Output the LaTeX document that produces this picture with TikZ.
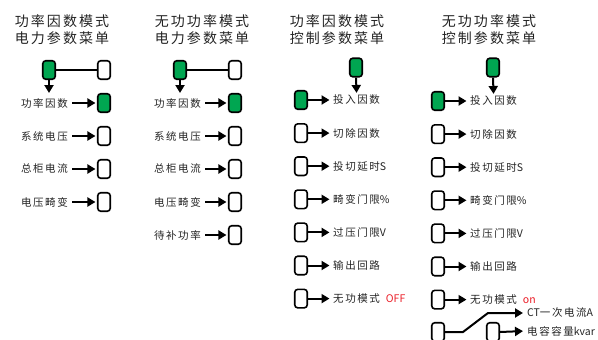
\documentclass[tikz,border=0pt]{standalone}
\usepackage{fontspec}
\newfontfamily\cjk[LetterSpace=15]{Noto Sans CJK SC}
\newfontfamily\cjkn{Noto Sans CJK SC}
\newcommand\lat[1]{{\cjkn #1}}
\usetikzlibrary{arrows.meta}

\definecolor{keygreen}{RGB}{0,166,81}
\definecolor{offred}{RGB}{235,30,40}
\definecolor{txtgray}{RGB}{35,35,35}

\begin{document}
\begin{tikzpicture}[x=1pt,y=-1pt,
    key/.style={draw=black,line width=1.6pt,rounded corners=3pt,minimum width=12.5pt,minimum height=18.5pt,inner sep=0pt},
    keyon/.style={key,fill=keygreen},
    ttl/.style={font=\cjk\fontsize{14}{17}\selectfont,align=center,text=txtgray},
    lbl/.style={font=\cjk\fontsize{10.5}{12}\selectfont,text=txtgray,inner sep=2pt},
    arr/.style={line width=2pt,-{Triangle[length=8pt,width=9pt]}},
    link/.style={line width=1.6pt}]

    \useasboundingbox (0,0) rectangle (598,340);

    % Column 1: power factor mode, electric menu
    \node[ttl] (t1) at (62,29.5) {功率因数模式\\电力参数菜单};
    \node[keyon] (k1a) at (49,70) {};
    \node[key] (k1b) at (104,70) {};
    \draw[link] (k1a) -- (k1b);
    \coordinate (d1) at (49,93);
    \draw[arr] (k1a.south) -- (d1);
    \foreach \lab/\sty [count=\i] in {功率因数/keyon,系统电压/key,总柜电流/key,电压畸变/key} {
        \node[\sty] (k1r\i) at (104,{103+33*(\i-1)}) {};
        \node[lbl,anchor=east] (l1r\i) at (70,{103+33*(\i-1)}) {\lab};
        \draw[arr,shorten <=2pt,shorten >=1.5pt] (l1r\i) -- (k1r\i);
    }

    % Column 2: reactive power mode, electric menu
    \node[ttl] (t2) at (202,29.5) {无功功率模式\\电力参数菜单};
    \node[keyon] (k2a) at (180,70) {};
    \node[key] (k2b) at (235,70) {};
    \draw[link] (k2a) -- (k2b);
    \coordinate (d2) at (180,93);
    \draw[arr] (k2a.south) -- (d2);
    \foreach \lab/\sty [count=\i] in {功率因数/keyon,系统电压/key,总柜电流/key,电压畸变/key,待补功率/key} {
        \node[\sty] (k2r\i) at (235,{103+33*(\i-1)}) {};
        \node[lbl,anchor=east] (l2r\i) at (203,{103+33*(\i-1)}) {\lab};
        \draw[arr,shorten <=2pt,shorten >=1.5pt] (l2r\i) -- (k2r\i);
    }

    % Column 3: power factor mode, control menu
    \node[ttl] (t3) at (337,29.5) {功率因数模式\\控制参数菜单};
    \node[keyon] (k3a) at (356,67.5) {};
    \foreach \lab/\sty [count=\i] in {投入因数/keyon,切除因数/key,投切延时\lat{S}/key,畸变门限\lat{\%}/key,过压门限\lat{V}/key,输出回路/key,无功模式\hspace{6pt}\textcolor{offred}{\lat{OFF}}/key} {
        \node[\sty] (k3r\i) at (301,{100+33.1*(\i-1)}) {};
        \node[lbl,anchor=west] (l3r\i) at (331,{100+33.1*(\i-1)}) {\lab};
        \draw[arr,shorten >=1.5pt] (k3r\i) -- (l3r\i);
    }
    \draw[arr] (k3a.south) -- (l3r1.north);

    % Column 4: reactive power mode, control menu
    \node[ttl] (t4) at (489,29.5) {无功功率模式\\控制参数菜单};
    \node[keyon] (k4a) at (493,67.5) {};
    \foreach \lab/\sty [count=\i] in {投入因数/keyon,切除因数/key,投切延时\lat{S}/key,畸变门限\lat{\%}/key,过压门限\lat{V}/key,输出回路/key,无功模式\hspace{6pt}\textcolor{offred}{\lat{on}}/key} {
        \node[\sty] (k4r\i) at (438,{101+33.1*(\i-1)}) {};
        \node[lbl,anchor=west] (l4r\i) at (468,{101+33.1*(\i-1)}) {\lab};
        \draw[arr,shorten >=1.5pt] (k4r\i) -- (l4r\i);
    }
    \draw[arr] (k4a.south) -- (l4r1.north);

    % Sub menu under the last row
    \node[key] (k4s) at (438,332) {};
    \node[key] (k4t) at (493,332) {};
    \node[lbl,anchor=west] (lct) at (525,313) {\lat{CT}一次电流\lat{A}};
    \node[lbl,anchor=west] (lcap) at (525,331) {电容容量\lat{kvar}};
    \coordinate (b1) at (463,332);
    \coordinate (b2) at (488,313);
    \draw[arr,shorten >=2pt] (k4s.east) -- (b1) -- (b2) -- (lct.west);
    \draw[arr,shorten >=2pt] (k4t.east) -- (lcap.west);

\end{tikzpicture}
\end{document}
